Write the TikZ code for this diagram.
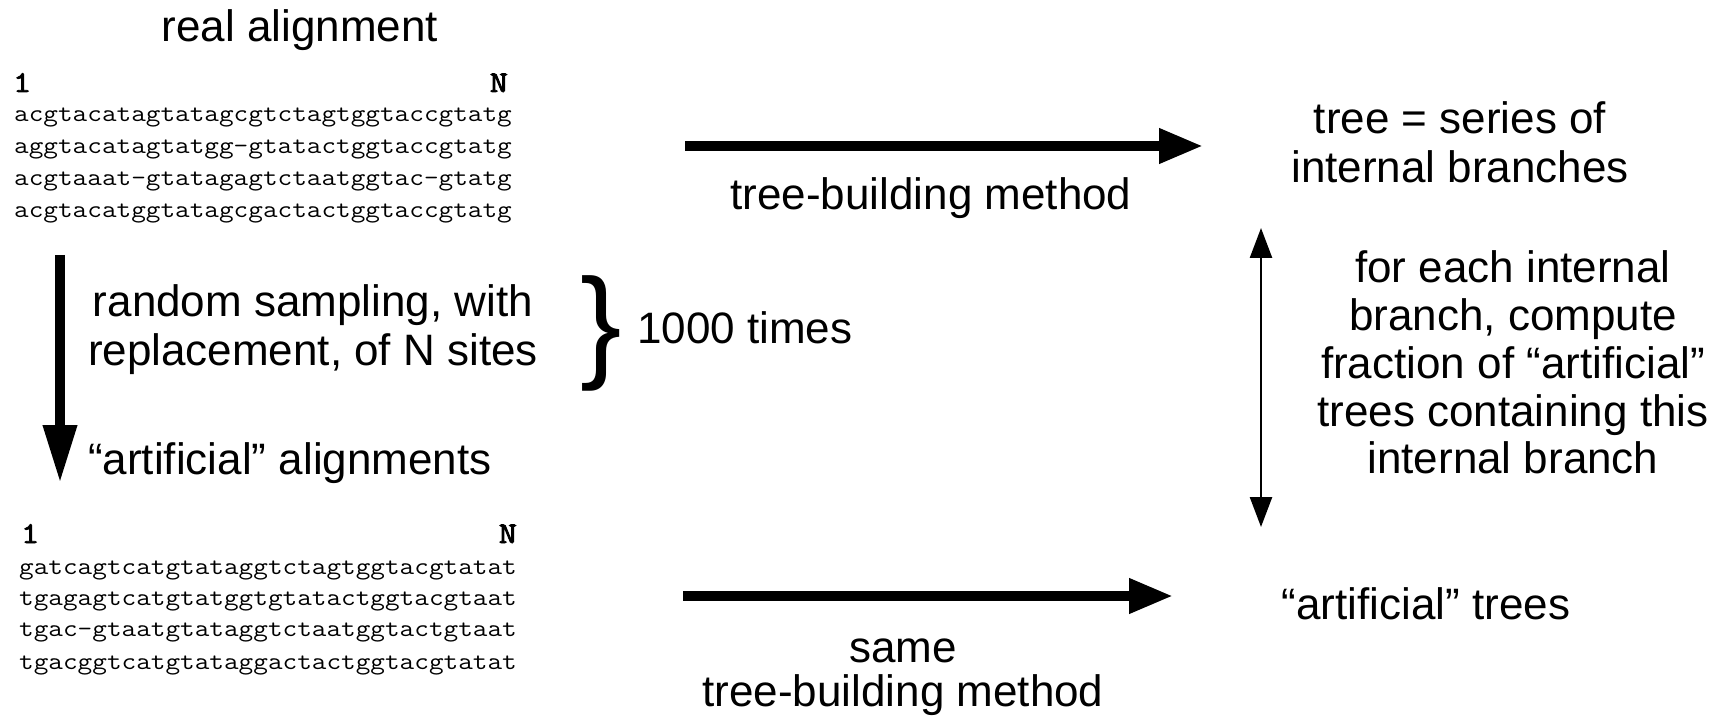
\documentclass[tikz,border=0pt]{standalone}
\usepackage{fontspec}
\setmainfont{Liberation Sans}
\newfontfamily\seqfont[FakeStretch=1.16]{Latin Modern Mono}
\newfontfamily\idxfont[FakeStretch=1.16,FakeBold=3]{Latin Modern Mono}
\usetikzlibrary{arrows.meta}
\begin{document}
\begin{tikzpicture}[x=1pt,y=-1pt,
  lbl/.style={font=\fontsize{44}{47.5}\selectfont, inner sep=0pt, anchor=base},
  lblw/.style={lbl, anchor=base west},
  seq/.style={font=\seqfont\fontsize{24.5}{32.5}\selectfont, inner sep=0pt, anchor=base west},
  idx/.style={font=\idxfont\fontsize{30}{32}\selectfont, inner sep=0pt},
  bigarrow/.style={line width=10pt, -{Triangle[length=44pt,width=33pt]}},
  downarrow/.style={line width=10pt, -{Triangle[length=58pt,width=32pt]}},
  thinarrow/.style={line width=2.5pt, {Triangle[length=30pt,width=22pt]}-{Triangle[length=30pt,width=22pt]}}]
\useasboundingbox (0,0) rectangle (1722,719);
% real alignment
\node[lbl] (real) at (300,42) {real alignment};
\node[idx, anchor=base west] (one1) at (13,92) {1};
\node[idx, anchor=base east] (n1) at (508,92) {N};
\node[seq] (r1) at (14,122) {acgtacatagtatagcgtctagtggtaccgtatg};
\node[seq] (r2) at (14,154) {aggtacatagtatgg-gtatactggtaccgtatg};
\node[seq] (r3) at (14,186) {acgtaaat-gtatagagtctaatggtac-gtatg};
\node[seq] (r4) at (14,218) {acgtacatggtatagcgactactggtaccgtatg};
% resampling
\coordinate (vtop) at (60,255);
\coordinate (vbot) at (60,483);
\draw[downarrow] (vtop) -- (vbot);
\node[lbl] (rs1) at (313,317) {random sampling, with};
\node[lbl] (rs2) at (313,366) {replacement, of N sites};
\node[font=\fontsize{124}{124}\selectfont, inner sep=0pt] (brace) at (601,333) {\}};
\node[lblw] (times) at (637,344) {1000 times};
\node[lblw] (art) at (88,474) {“artificial” alignments};
% artificial alignments
\node[idx, anchor=base west] (one2) at (21,543) {1};
\node[idx, anchor=base east] (n2) at (517,543) {N};
\node[seq] (a1) at (19,574) {gatcagtcatgtataggtctagtggtacgtatat};
\node[seq] (a2) at (19,605) {tgagagtcatgtatggtgtatactggtacgtaat};
\node[seq] (a3) at (19,636) {tgac-gtaatgtataggtctaatggtactgtaat};
\node[seq] (a4) at (19,669) {tgacggtcatgtataggactactggtacgtatat};
% top arrow
\coordinate (t0) at (685,146);
\coordinate (t1) at (1203,146);
\draw[bigarrow] (t0) -- (t1);
\node[lbl] (tbm) at (931,210) {tree-building method};
\node[lbl] (tree1) at (1460,134) {tree = series of};
\node[lbl] (tree2) at (1460,183) {internal branches};
% double arrow
\coordinate (d0) at (1261,228);
\coordinate (d1) at (1261,527);
\draw[thinarrow] (d0) -- (d1);
\node[lbl] (f1) at (1513,283) {for each internal};
\node[lbl] (f2) at (1513,331) {branch, compute};
\node[lbl] (f3) at (1513,378) {fraction of “artificial”};
\node[lbl] (f4) at (1513,426) {trees containing this};
\node[lbl] (f5) at (1513,473) {internal branch};
% bottom arrow
\coordinate (b0) at (683,596);
\coordinate (b1) at (1173,596);
\draw[bigarrow] (b0) -- (b1);
\node[lbl] (atrees) at (1426,619) {“artificial” trees};
\node[lbl] (same) at (903,662) {same};
\node[lbl] (tbm2) at (903,706) {tree-building method};
\end{tikzpicture}
\end{document}
